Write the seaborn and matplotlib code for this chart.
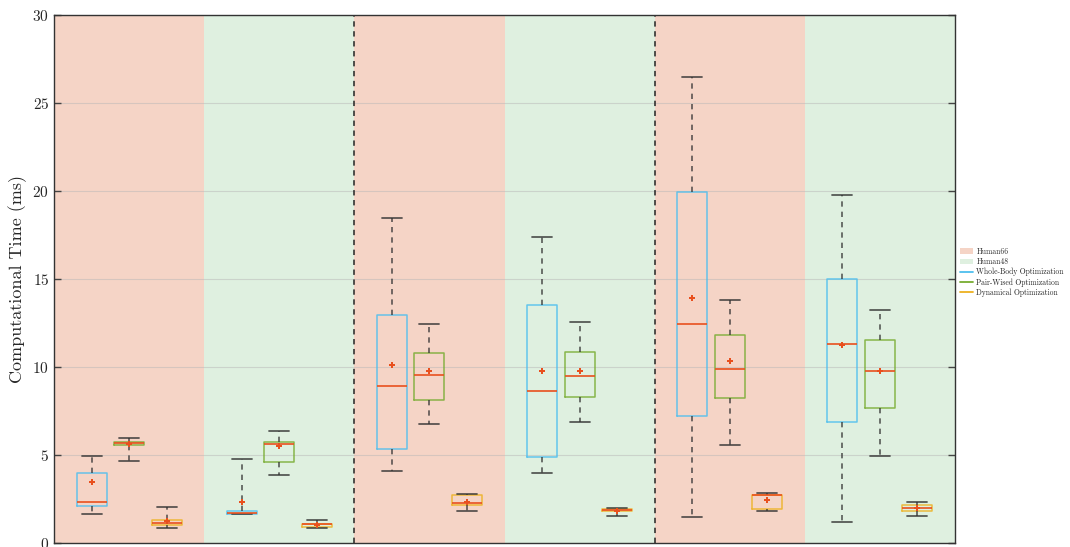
import numpy as np
import pandas as pd
import matplotlib
matplotlib.use("Agg")
import matplotlib.pyplot as plt
from matplotlib.patches import Patch
from matplotlib.lines import Line2D
import seaborn as sns

# Datasets alternate across the three experiment blocks
datasets = ["Human66", "Human48", "Human66", "Human48", "Human66", "Human48"]
methods = ["Whole-Body Optimization", "Pair-Wised Optimization", "Dynamical Optimization"]

# Box statistics per method, one entry per block (ms)
whole_lo = [1.65, 1.65, 4.11, 3.96, 1.48, 1.17]
whole_q1 = [2.10, 1.67, 5.36, 4.87, 7.20, 6.88]
whole_med = [2.35, 1.72, 8.90, 8.64, 12.42, 11.29]
whole_q3 = [3.96, 1.80, 12.97, 13.52, 19.96, 15.00]
whole_hi = [4.96, 4.79, 18.47, 17.40, 26.50, 19.79]
whole_mean = [3.48, 2.35, 10.13, 9.77, 13.94, 11.27]

pair_lo = [4.66, 3.88, 6.78, 6.86, 5.57, 4.94]
pair_q1 = [5.59, 4.58, 8.13, 8.30, 8.24, 7.65]
pair_med = [5.66, 5.61, 9.55, 9.47, 9.91, 9.79]
pair_q3 = [5.72, 5.72, 10.81, 10.85, 11.84, 11.53]
pair_hi = [5.95, 6.36, 12.42, 12.54, 13.79, 13.26]
pair_mean = [5.64, 5.49, 9.77, 9.77, 10.34, 9.76]

dyn_lo = [0.87, 0.87, 1.84, 1.53, 1.84, 1.53]
dyn_q1 = [1.00, 0.89, 2.18, 1.80, 1.91, 1.84]
dyn_med = [1.15, 1.06, 2.25, 1.88, 2.73, 1.99]
dyn_q3 = [1.29, 1.10, 2.75, 1.91, 2.75, 2.18]
dyn_hi = [2.05, 1.31, 2.80, 1.97, 2.86, 2.33]
dyn_mean = [1.25, 1.00, 2.35, 1.82, 2.44, 1.98]

stats = {
    methods[0]: (whole_lo, whole_q1, whole_med, whole_q3, whole_hi, whole_mean),
    methods[1]: (pair_lo, pair_q1, pair_med, pair_q3, pair_hi, pair_mean),
    methods[2]: (dyn_lo, dyn_q1, dyn_med, dyn_q3, dyn_hi, dyn_mean),
}

method_colors = {methods[0]: "#4DBEEE", methods[1]: "#77AC30", methods[2]: "#EDB120"}
dataset_colors = {"Human66": "#F5D4C6", "Human48": "#DFF0E0"}
median_color = "#E8501E"
whisker_color = "#333333"

# Five-point samples reproduce each box exactly (whiskers span min..max)
rows, mean_rows = [], []
for m_idx, m in enumerate(methods):
    lo, q1, med, q3, hi, mean = stats[m]
    for b in range(len(datasets)):
        pos = 4 * b + m_idx + 1
        for v in (lo[b], q1[b], med[b], q3[b], hi[b]):
            rows.append({"pos": pos, "method": m, "time": v})
        mean_rows.append({"pos": pos, "method": m, "time": mean[b]})
df = pd.DataFrame(rows)
df_mean = pd.DataFrame(mean_rows)

sns.set_theme(style="white")
plt.rcParams["font.family"] = ["cmr10", "DejaVu Serif"]
plt.rcParams["axes.formatter.use_mathtext"] = True
plt.rcParams["mathtext.fontset"] = "cm"

fig = plt.figure(figsize=(10.70, 5.47), dpi=100)
ax = fig.add_axes([0.0505, 0.0073, 0.842, 0.9653])

# Shaded dataset blocks
for b, d in enumerate(datasets):
    ax.axvspan(4 * b, 4 * b + 4, color=dataset_colors[d], zorder=0, lw=0)
for xv in (8, 16):
    ax.axvline(xv, color="#222222", ls=(0, (3.5, 3)), lw=1.1, zorder=3)

sns.boxplot(
    data=df, x="pos", y="time", hue="method", native_scale=True, dodge=False,
    palette=method_colors, fill=False, whis=(0, 100), width=0.8, linewidth=1.1,
    legend=False, ax=ax, capwidths=0.53,
    medianprops={"color": median_color, "linewidth": 1.2, "alpha": 1},
    whiskerprops={"color": whisker_color, "linestyle": (0, (3.2, 3.0)), "linewidth": 1.2, "alpha": 0.8},
    capprops={"color": whisker_color, "linewidth": 1.3, "alpha": 0.8},
    boxprops={"alpha": 0.85},
)

sns.scatterplot(
    data=df_mean, x="pos", y="time", marker="P", s=15, color=median_color,
    linewidth=0, ax=ax, legend=False, zorder=5,
)

ax.set_xlim(0, 24)
ax.set_ylim(0, 30)
ax.set_yticks(np.arange(0, 31, 5))
ax.set_xticks([])
ax.set_xlabel("")
ax.set_ylabel("Computational Time (ms)", fontsize=13)
ax.yaxis.grid(True, color="#b8b8b8", lw=0.8, alpha=0.5, zorder=0.5)
ax.tick_params(axis="y", direction="in", length=5, width=1, labelsize=11,
               left=True, right=True, color="#444444")
for s in ax.spines.values():
    s.set_color("#333333")
    s.set_linewidth(1.0)
    s.set_zorder(6)

handles = [
    Patch(facecolor=dataset_colors["Human66"], edgecolor="none", label="Human66"),
    Patch(facecolor=dataset_colors["Human48"], edgecolor="none", label="Human48"),
] + [Line2D([0], [0], color=method_colors[m], lw=1.3, label=m) for m in methods]
ax.legend(handles=handles, loc="center left", bbox_to_anchor=(1.0, 0.513),
          frameon=False, fontsize=5.5, handlelength=1.8, handletextpad=0.4,
          labelspacing=0.25, borderaxespad=0.2)

fig.savefig("out.png", dpi=100)
